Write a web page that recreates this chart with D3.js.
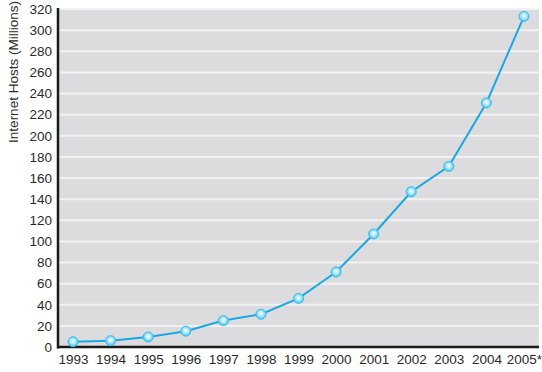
<!DOCTYPE html>
<html>
<head>
<meta charset="utf-8">
<script src="https://cdn.jsdelivr.net/npm/d3@7"></script>
<style>
  body { margin: 0; background: #fff; }
  svg { display: block; font-family: "Liberation Sans", Arial, sans-serif; }
</style>
</head>
<body>
<div id="chart"></div>
<script>
// data
const years = ['1993', '1994', '1995', '1996', '1997', '1998', '1999', '2000', '2001', '2002', '2003', '2004', '2005*'];
const hosts = [5, 6, 9.5, 15, 25, 31, 46, 71, 107, 147, 171, 231, 313];
const yTicks = [0, 20, 40, 60, 80, 100, 120, 140, 160, 180, 200, 220, 240, 260, 280, 300, 320];

const W = 542, H = 372;
const margin = { top: 9, right: 3, bottom: 25, left: 58 };

const svg = d3.select('#chart')
    .append('svg')
    .attr('width', W)
    .attr('height', H);

const x = d3.scalePoint()
    .domain(years)
    .range([margin.left, W - margin.right])
    .padding(0.4);

const y = d3.scaleLinear()
    .domain([0, 320])
    .range([H - margin.bottom, margin.top]);

// gradient for the markers
const grad = svg.append('defs')
    .append('radialGradient')
    .attr('id', 'dot')
    .attr('cx', '50%').attr('cy', '45%').attr('r', '55%');
grad.append('stop').attr('offset', '0%').attr('stop-color', '#ffffff');
grad.append('stop').attr('offset', '40%').attr('stop-color', '#bdeefd');
grad.append('stop').attr('offset', '100%').attr('stop-color', '#45c2f1');

// plot background
svg.append('rect')
    .attr('x', margin.left)
    .attr('y', y(320) - 1)
    .attr('width', W - margin.right - margin.left)
    .attr('height', y(0) - y(320) + 1)
    .attr('fill', '#dcdcde');

// gridlines
svg.append('g')
    .selectAll('line')
    .data(yTicks.filter(d => d > 0))
    .enter()
    .append('line')
    .attr('x1', margin.left)
    .attr('x2', W - margin.right)
    .attr('y1', d => y(d))
    .attr('y2', d => y(d))
    .attr('stroke', '#f2f2f2')
    .attr('stroke-width', 2);

// y axis
const yAxis = svg.append('g')
    .attr('transform', `translate(${margin.left} 0)`)
    .call(d3.axisLeft(y).tickValues(yTicks).tickSize(0).tickPadding(6));
yAxis.select('.domain').remove();
yAxis.selectAll('text')
    .attr('font-size', 13.5)
    .attr('fill', '#2a2a2a')
    .attr('font-family', '"Liberation Sans", Arial, sans-serif');

// x axis
const xAxis = svg.append('g')
    .attr('transform', `translate(0 ${y(0)})`)
    .call(d3.axisBottom(x).tickSize(0).tickPadding(7));
xAxis.select('.domain').remove();
xAxis.selectAll('text')
    .attr('font-size', 13.5)
    .attr('fill', '#2a2a2a')
    .attr('font-family', '"Liberation Sans", Arial, sans-serif');

// axis lines
svg.append('line')
    .attr('x1', margin.left).attr('x2', margin.left)
    .attr('y1', y(320) - 1).attr('y2', y(0) + 1.5)
    .attr('stroke', '#1a1a1a')
    .attr('stroke-width', 2.5);
svg.append('line')
    .attr('x1', margin.left - 1).attr('x2', W - margin.right)
    .attr('y1', y(0)).attr('y2', y(0))
    .attr('stroke', '#1a1a1a')
    .attr('stroke-width', 2.5);

// axis title
svg.append('text')
    .attr('transform', 'translate(18 72) rotate(-90)')
    .attr('text-anchor', 'middle')
    .attr('font-size', 13.5)
    .attr('fill', '#2a2a2a')
    .text('Internet Hosts (Millions)');

// line
const line = d3.line()
    .x((d, i) => x(years[i]))
    .y(d => y(d));

svg.append('path')
    .datum(hosts)
    .attr('d', line)
    .attr('fill', 'none')
    .attr('stroke', '#1ba8e2')
    .attr('stroke-width', 2);

// markers
svg.append('g')
    .selectAll('circle')
    .data(hosts)
    .enter()
    .append('circle')
    .attr('cx', (d, i) => x(years[i]))
    .attr('cy', d => y(d))
    .attr('r', 5)
    .attr('fill', 'url(#dot)')
    .attr('stroke', '#3bbcee')
    .attr('stroke-width', 1);
</script>
</body>
</html>
